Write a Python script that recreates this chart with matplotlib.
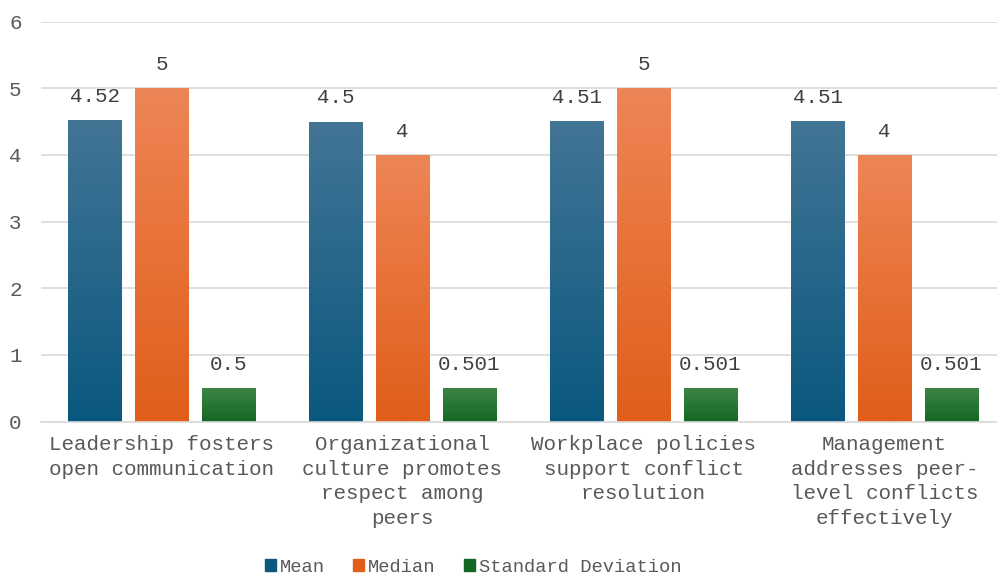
import numpy as np
import matplotlib
matplotlib.use("Agg")
import matplotlib.pyplot as plt
from matplotlib.colors import LinearSegmentedColormap

categories = ["Leadership fosters\nopen communication",
              "Organizational\nculture promotes\nrespect among\npeers",
              "Workplace policies\nsupport conflict\nresolution",
              "Management\naddresses peer-\nlevel conflicts\neffectively"]
series_names = ["Mean", "Median", "Standard Deviation"]
mean_vals = [4.52, 4.5, 4.51, 4.51]
median_vals = [5, 4, 5, 4]
sd_vals = [0.5, 0.501, 0.501, 0.501]
value_labels = [["4.52", "4.5", "4.51", "4.51"],
                ["5", "4", "5", "4"],
                ["0.5", "0.501", "0.501", "0.501"]]

# (top colour, bottom colour) per series
colors = [("#437595", "#0a587f"), ("#ee8556", "#e05e19"), ("#3f8446", "#146823")]

plt.rcParams['font.family'] = ['Liberation Mono', 'DejaVu Sans']

fig = plt.figure(figsize=(9.97, 5.76), dpi=100)
ax = fig.add_axes([41 / 997, 154.5 / 576, (997 - 41) / 997, 400 / 576])

x = np.arange(len(categories))
width = 0.224
step = 0.278
grad = np.linspace(1, 0, 256).reshape(-1, 1)

for i, vals in enumerate([mean_vals, median_vals, sd_vals]):
    top, bottom = colors[i]
    cmap = LinearSegmentedColormap.from_list("g%d" % i, [bottom, top])
    bars = ax.bar(x + (i - 1) * step, vals, width, color=bottom, label=series_names[i], zorder=2)
    for b, lab in zip(bars, value_labels[i]):
        x0 = b.get_x()
        h = b.get_height()
        im = ax.imshow(grad, extent=[x0, x0 + b.get_width(), 0, h], cmap=cmap,
                       aspect='auto', origin='upper', zorder=2.5, vmin=0, vmax=1)
        im.set_clip_path(b)
        ax.annotate(lab, (x0 + b.get_width() / 2, h), xytext=(0, 17), textcoords='offset points',
                    ha='center', va='center', fontsize=15, color='#404040')

ax.set_xlim(-0.5, -0.5 + (997 - 41) / 241)
ax.set_ylim(0, 6)
ax.set_yticks(range(0, 7))
ax.set_xticks(x)
ax.set_xticklabels(categories, fontsize=15, color='#595959', linespacing=1.37)
ax.tick_params(axis='y', labelsize=15, labelcolor='#595959', length=0, pad=14)
ax.tick_params(axis='x', length=0, pad=10)
ax.grid(axis='y', color='#d9d9d9', linewidth=1.2, zorder=0)
ax.set_axisbelow(True)
for s in ['top', 'right', 'left']:
    ax.spines[s].set_visible(False)
ax.spines['bottom'].set_color('#d9d9d9')
ax.spines['bottom'].set_linewidth(1.2)

handles = [plt.Rectangle((0, 0), 1, 1, color=c[1]) for c in colors]
fig.legend(handles, series_names, loc='center', bbox_to_anchor=(473 / 997, 9 / 576),
           ncol=3, frameon=False, fontsize=13.5, labelcolor='#595959',
           handlelength=0.6, handleheight=0.6, handletextpad=0.2, columnspacing=1.5)

fig.savefig("out.png", dpi=100)
